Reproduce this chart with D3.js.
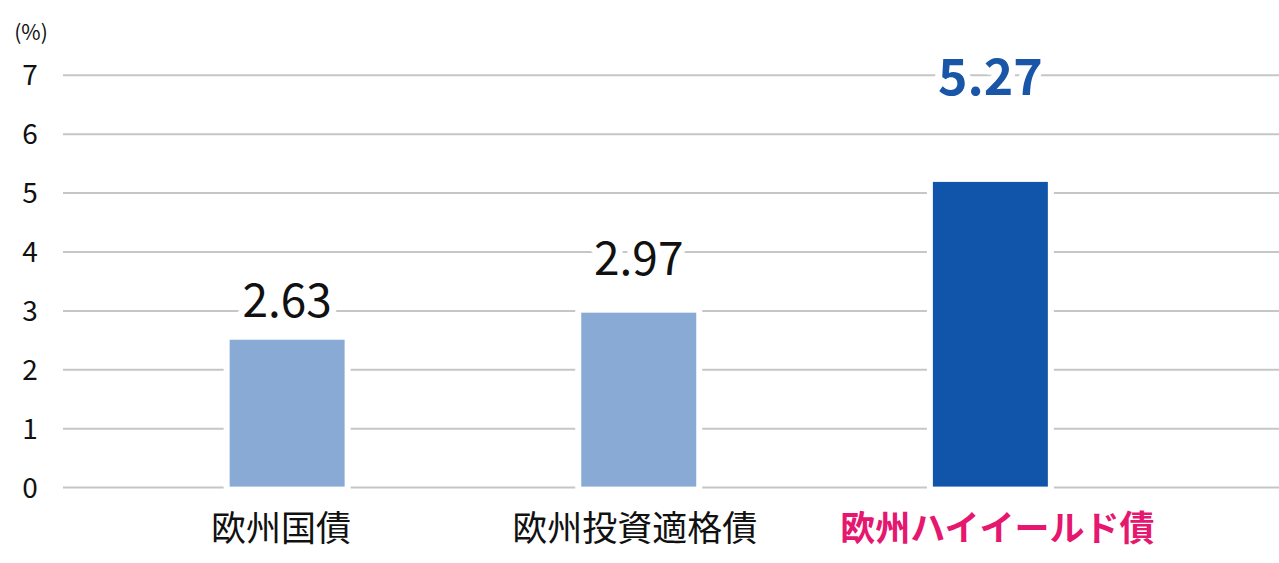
<!DOCTYPE html>
<html>
<head>
<meta charset="utf-8">
<script src="https://cdn.jsdelivr.net/npm/d3@7/dist/d3.min.js"></script>
<style>
  html, body { margin: 0; padding: 0; background: #fff; }
  svg { display: block; font-family: "Noto Sans CJK JP", "Noto Sans", sans-serif; }
</style>
</head>
<body>
<svg id="chart" width="1279" height="563"></svg>
<script>
// ---- data ----
const categories = ["欧州国債", "欧州投資適格債", "欧州ハイイールド債"];
const barValues = [2.51, 2.97, 5.19];          // bar heights as drawn
const labelValues = ["2.63", "2.97", "5.27"];  // data labels shown
const yTicks = [0, 1, 2, 3, 4, 5, 6, 7];
const unitLabel = "(%)";

// ---- layout / style ----
const gridLeft = 63, gridRight = 1279;
const labelGap = [23, 38, 87];
const catShift = [-6, -4, 7];
const barColors = ["#88aad5", "#88aad5", "#1055a9"];
const labelColors = ["#111", "#111", "#1a56a8"];
const catColors = ["#111", "#111", "#e5176f"];

const svg = d3.select("#chart");

const y = d3.scaleLinear().domain([0, 7]).range([487.6, 75.3]);
const x = d3.scaleBand().domain(categories).range([111.5, 1166]).paddingInner(0.673).paddingOuter(0.336);

// grid lines
svg.append("g").selectAll("line").data(yTicks).join("line")
  .attr("x1", gridLeft).attr("x2", gridRight)
  .attr("y1", d => y(d)).attr("y2", d => y(d))
  .attr("stroke", "#c6c6c6").attr("stroke-width", 2);

// y tick labels
svg.append("g").selectAll("text").data(yTicks).join("text")
  .attr("x", 30).attr("y", d => y(d)).attr("dy", "0.36em")
  .attr("text-anchor", "middle").attr("font-size", 28).attr("fill", "#111")
  .text(d => d);

svg.append("text").attr("x", 31).attr("y", 40).attr("text-anchor", "middle")
  .attr("font-size", 21).attr("fill", "#111").text(unitLabel);

// bars: white outline behind, fill on top
svg.append("g").selectAll("rect").data(categories).join("rect")
  .attr("x", d => x(d)).attr("width", x.bandwidth())
  .attr("y", (d, i) => y(barValues[i]))
  .attr("height", (d, i) => y(0) - y(barValues[i]))
  .attr("fill", "#fff")
  .attr("stroke", "#fff").attr("stroke-width", 12);

svg.append("g").selectAll("rect").data(categories).join("rect")
  .attr("x", d => x(d)).attr("width", x.bandwidth())
  .attr("y", (d, i) => y(barValues[i]))
  .attr("height", (d, i) => y(0) - y(barValues[i]) - 1)
  .attr("fill", (d, i) => barColors[i]);

// value labels with white halo
svg.append("g").selectAll("text").data(categories).join("text")
  .attr("x", d => x(d) + x.bandwidth() / 2)
  .attr("y", (d, i) => y(barValues[i]) - labelGap[i])
  .attr("text-anchor", "middle")
  .attr("font-size", (d, i) => i === 2 ? 50 : 46)
  .attr("font-weight", (d, i) => i === 2 ? 700 : 400)
  .attr("fill", (d, i) => labelColors[i])
  .attr("stroke", "#fff").attr("stroke-width", 14).attr("paint-order", "stroke")
  .attr("stroke-linejoin", "round")
  .text((d, i) => labelValues[i]);

// category labels
svg.append("g").selectAll("text").data(categories).join("text")
  .attr("x", (d, i) => x(d) + x.bandwidth() / 2 + catShift[i])
  .attr("y", 541)
  .attr("text-anchor", "middle")
  .attr("font-size", 35)
  .attr("font-weight", (d, i) => i === 2 ? 700 : 400)
  .attr("fill", (d, i) => catColors[i])
  .text(d => d);
</script>
</body>
</html>
